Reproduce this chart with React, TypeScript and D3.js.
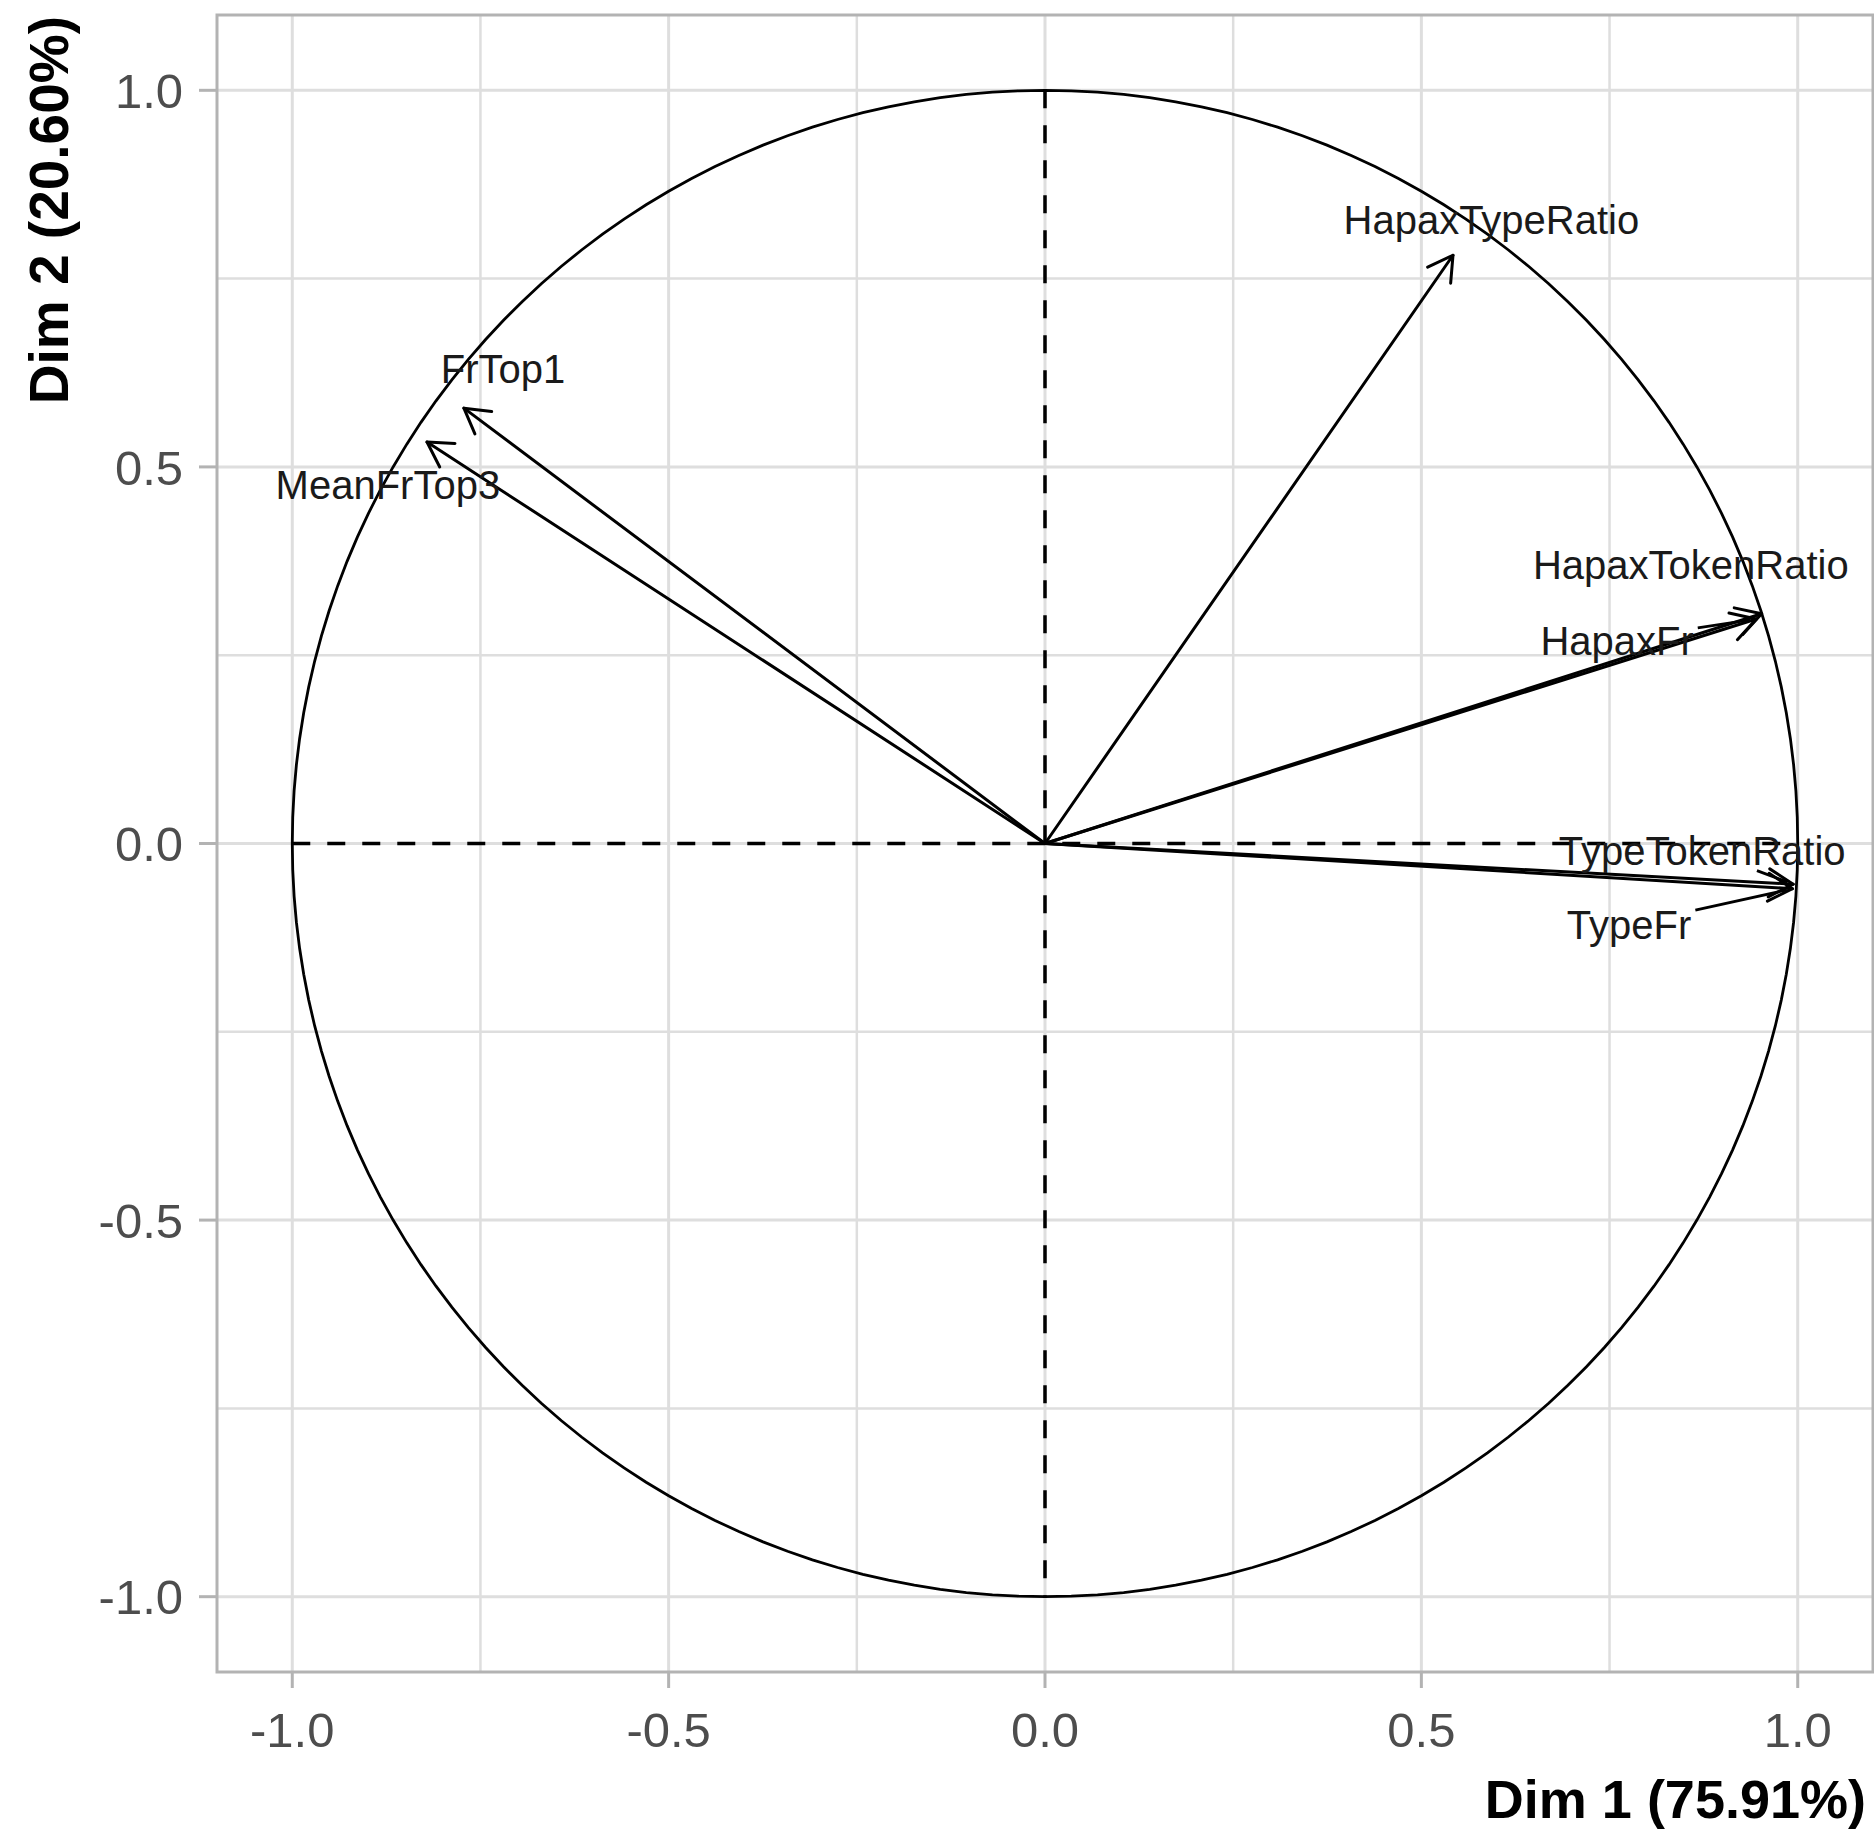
import React from "react";
import * as d3 from "d3";

// ---- data ----
const variables = ["HapaxTypeRatio", "FrTop1", "MeanFrTop3", "HapaxTokenRatio", "HapaxFr", "TypeTokenRatio", "TypeFr"];
const dim1 = [0.542, -0.772, -0.821, 0.952, 0.945, 0.994, 0.993];
const dim2 = [0.781, 0.578, 0.533, 0.305, 0.298, -0.054, -0.060];
// label (repelled) positions, in data units (centre of label)
const labelX = [0.593, -0.72, -0.873, 0.858, 0.76, 0.873, 0.776];
const labelY = [0.829, 0.63, 0.477, 0.37, 0.27, -0.009, -0.108];
const labelsWithSegment = ["HapaxFr", "TypeFr", "TypeTokenRatio"];
const majorTicks = [-1, -0.5, 0, 0.5, 1];
const minorTicks = [-0.75, -0.25, 0.25, 0.75];
const tickLabels = ["-1.0", "-0.5", "0.0", "0.5", "1.0"];
const xTitle = "Dim 1 (75.91%)";
const yTitle = "Dim 2 (20.60%)";

const W = 1874;
const H = 1830;
const FONT = "'Liberation Sans', Arial, sans-serif";
const LABEL_FS = 40;

function measure(text: string, size: number): number {
  if (typeof document === "undefined") return text.length * size * 0.55;
  const c = document.createElement("canvas").getContext("2d");
  if (!c) return text.length * size * 0.55;
  c.font = `${size}px 'Liberation Sans', Arial, sans-serif`;
  return c.measureText(text).width;
}

export default function App() {
  const x = d3.scaleLinear().domain([-1.1, 1.1]).range([217, 1873]);
  const y = d3.scaleLinear().domain([-1.1, 1.1]).range([1672, 15]);

  const circlePts = d3.range(0, 361, 2).map((a) => [Math.cos((a * Math.PI) / 180), Math.sin((a * Math.PI) / 180)] as [number, number]);
  const circlePath = d3
    .line<[number, number]>()
    .x((d) => x(d[0]))
    .y((d) => y(d[1]))
    .curve(d3.curveLinearClosed)(circlePts) as string;

  const headLen = 28;
  const headAng = (30 * Math.PI) / 180;

  return (
    <svg width={W} height={H} style={{ position: "absolute", left: 0, top: 0, background: "#fff" }} fontFamily={FONT}>
      <rect x={0} y={0} width={W} height={H} fill="#fff" />
      {/* grid */}
      {minorTicks.map((t) => (
        <g key={"mn" + t}>
          <line x1={x(t)} x2={x(t)} y1={y.range()[0]} y2={y.range()[1]} stroke="#DEDEDE" strokeWidth={2.5} />
          <line y1={y(t)} y2={y(t)} x1={x.range()[0]} x2={x.range()[1]} stroke="#DEDEDE" strokeWidth={2.5} />
        </g>
      ))}
      {majorTicks.map((t) => (
        <g key={"mj" + t}>
          <line x1={x(t)} x2={x(t)} y1={y.range()[0]} y2={y.range()[1]} stroke="#DEDEDE" strokeWidth={3} />
          <line y1={y(t)} y2={y(t)} x1={x.range()[0]} x2={x.range()[1]} stroke="#DEDEDE" strokeWidth={3} />
        </g>
      ))}
      {/* dashed axes */}
      <line x1={x(-1)} x2={x(1)} y1={y(0)} y2={y(0)} stroke="#000" strokeWidth={3.5} strokeDasharray="18 17" />
      <line x1={x(0)} x2={x(0)} y1={y(1)} y2={y(-1)} stroke="#000" strokeWidth={3.5} strokeDasharray="18 17" />
      {/* circle */}
      <path d={circlePath} fill="none" stroke="#000" strokeWidth={2.8} />
      {/* arrows */}
      {variables.map((v, i) => {
        const x0 = x(0), y0 = y(0);
        const x1 = x(dim1[i]), y1 = y(dim2[i]);
        const ang = Math.atan2(y1 - y0, x1 - x0);
        const b1 = [x1 - headLen * Math.cos(ang - headAng), y1 - headLen * Math.sin(ang - headAng)];
        const b2 = [x1 - headLen * Math.cos(ang + headAng), y1 - headLen * Math.sin(ang + headAng)];
        return (
          <g key={"ar" + v} stroke="#000" strokeWidth={3} fill="none" strokeLinecap="round" strokeLinejoin="round">
            <line x1={x0} y1={y0} x2={x1} y2={y1} />
            <polyline points={`${b1[0]},${b1[1]} ${x1},${y1} ${b2[0]},${b2[1]}`} />
          </g>
        );
      })}
      {/* label segments */}
      {variables.map((v, i) => {
        if (!labelsWithSegment.includes(v)) return null;
        const cx = x(labelX[i]), cy = y(labelY[i]);
        const tx = x(dim1[i]), ty = y(dim2[i]);
        const hw = measure(v, LABEL_FS) / 2 + 4;
        const hh = LABEL_FS * 0.36 + 6;
        const dx = tx - cx, dy = ty - cy;
        const t = Math.min(Math.abs(hw / dx), Math.abs(hh / dy));
        const sx = cx + dx * t, sy = cy + dy * t;
        const len = Math.hypot(tx - sx, ty - sy);
        const pad = 6;
        const ex = tx - ((tx - sx) / len) * pad, ey = ty - ((ty - sy) / len) * pad;
        return <line key={"sg" + v} x1={sx} y1={sy} x2={ex} y2={ey} stroke="#000" strokeWidth={2.8} />;
      })}
      {/* labels */}
      {variables.map((v, i) => (
        <text key={"lb" + v} x={x(labelX[i])} y={y(labelY[i])} dy={LABEL_FS * 0.36} textAnchor="middle" fontSize={LABEL_FS} fill="#1a1a1a">
          {v}
        </text>
      ))}
      {/* panel border */}
      <rect x={x.range()[0]} y={y.range()[1]} width={x.range()[1] - x.range()[0]} height={y.range()[0] - y.range()[1]} fill="none" stroke="#B3B3B3" strokeWidth={3} />
      {/* ticks */}
      {majorTicks.map((t, i) => (
        <g key={"tk" + t}>
          <line x1={x(t)} x2={x(t)} y1={y.range()[0]} y2={y.range()[0] + 16} stroke="#B3B3B3" strokeWidth={3} />
          <text x={x(t)} y={1747} textAnchor="middle" fontSize={49} fill="#4D4D4D">
            {tickLabels[i]}
          </text>
          <line x1={x.range()[0] - 18} x2={x.range()[0]} y1={y(t)} y2={y(t)} stroke="#B3B3B3" strokeWidth={3} />
          <text x={183} y={y(t)} dy={49 * 0.36} textAnchor="end" fontSize={49} fill="#4D4D4D">
            {tickLabels[i]}
          </text>
        </g>
      ))}
      {/* axis titles */}
      <text x={1866} y={1818} textAnchor="end" fontSize={54} fontWeight="bold" fill="#000">
        {xTitle}
      </text>
      <text transform={`translate(68,16) rotate(-90)`} textAnchor="end" fontSize={55} fontWeight="bold" fill="#000">
        {yTitle}
      </text>
    </svg>
  );
}
